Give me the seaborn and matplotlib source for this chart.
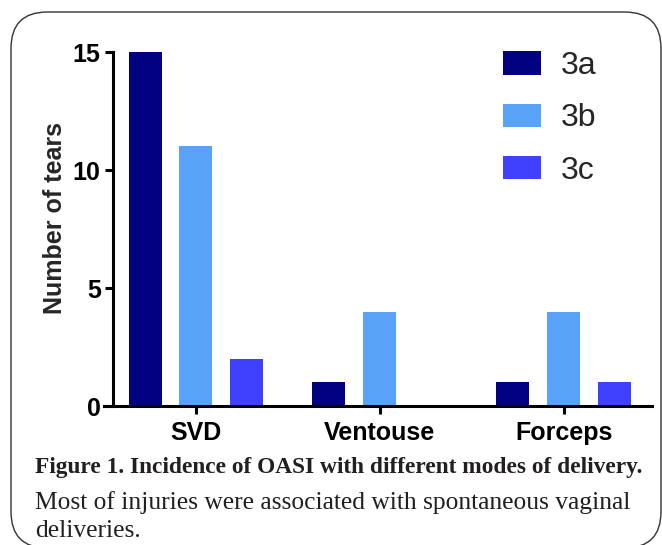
import matplotlib
matplotlib.use("Agg")
import matplotlib.pyplot as plt
import pandas as pd
import seaborn as sns
from matplotlib.patches import FancyBboxPatch, Patch

# values
modes = ['SVD', 'Ventouse', 'Forceps']
grades = ['3a', '3b', '3c']
tears_3a = [15, 1, 1]
tears_3b = [11, 4, 4]
tears_3c = [2, 0, 1]
colors = ['#000080', '#58A2F8', '#4040FF']

caption_bold = "Figure 1. Incidence of OASI with different modes of delivery."
caption_rest = ["Most of injuries were associated with spontaneous vaginal", "deliveries."]

rows = []
for g, vals in zip(grades, [tears_3a, tears_3b, tears_3c]):
    for m, v in zip(modes, vals):
        rows.append({'mode': m, 'grade': g, 'tears': v})
df = pd.DataFrame(rows)

sns.set_style("ticks")
plt.rcParams['font.family'] = ['Liberation Sans', 'DejaVu Sans']

W, H = 662, 545
fig = plt.figure(figsize=(W / 100, H / 100), dpi=100)
ax = fig.add_axes([104 / W, 1 - 406 / H, (652 - 104) / W, (406 - 52) / H])

sns.barplot(data=df, x='mode', y='tears', hue='grade', order=modes, hue_order=grades,
            palette=colors, saturation=1, width=0.83, gap=0.35, linewidth=0,
            legend=False, ax=ax)

ax.set_xlim(-0.5, 2.48)
ax.set_ylim(0, 15)
ax.set_yticks([0, 5, 10, 15])
ax.set_xlabel('')
ax.set_ylabel('Number of tears', fontsize=18, fontweight='bold')
ax.yaxis.set_label_coords(-0.068, 0.53)

for side in ['top', 'right']:
    ax.spines[side].set_visible(False)
ax.spines['left'].set_position(('data', -0.45))
for side in ['left', 'bottom']:
    ax.spines[side].set_linewidth(2.2)
    ax.spines[side].set_color('black')
ax.spines['left'].set_capstyle('projecting')
ax.tick_params(axis='both', width=2.2, length=6, color='black', labelcolor='black')
ax.tick_params(axis='y', labelsize=18, pad=3)
ax.tick_params(axis='x', labelsize=18, pad=5)
for lab in ax.get_xticklabels() + ax.get_yticklabels():
    lab.set_fontweight('bold')

handles = [Patch(facecolor=c, edgecolor='none', label=g) for c, g in zip(colors, grades)]
fig.legend(handles=handles, loc='upper left', bbox_to_anchor=(503 / W, 1 - 51 / H),
           bbox_transform=fig.transFigure, frameon=False, fontsize=23,
           handlelength=1.19, handleheight=0.75, handletextpad=0.62,
           labelspacing=0.7, borderpad=0, borderaxespad=0)

fig.text(35 / W, 1 - 467 / H, caption_bold, family='Liberation Serif', fontweight='bold',
         fontsize=16.8, va='center', ha='left', color='#231f20')
for i, line in enumerate(caption_rest):
    fig.text(35 / W, 1 - (503 + 28 * i) / H, line, family='Liberation Serif',
             fontsize=18.4, va='center', ha='left', color='#231f20')

frame = FancyBboxPatch((11 / W, -3 / H), (661 - 11) / W, (H - 12 + 3) / H,
                       boxstyle="round,pad=0,rounding_size=0.055",
                       transform=fig.transFigure, facecolor='none',
                       edgecolor='#333333', linewidth=1.0, clip_on=False,
                       mutation_aspect=W / H)
fig.patches.append(frame)

fig.savefig('out.png', dpi=100)
